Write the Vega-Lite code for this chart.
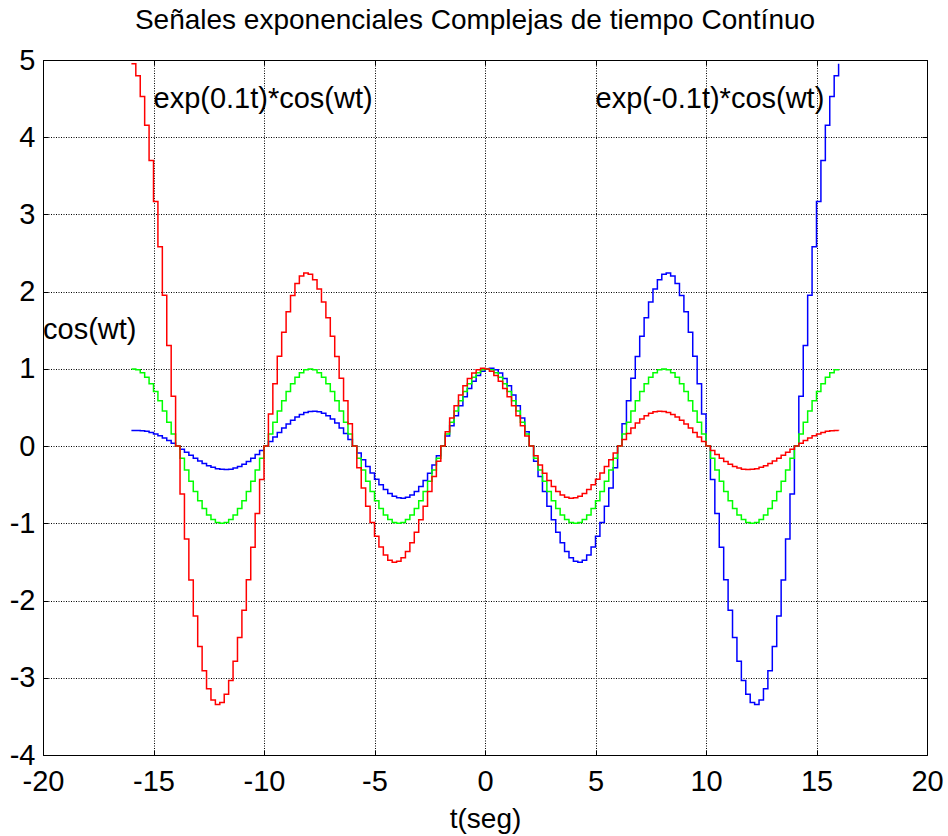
{
  "$schema": "https://vega.github.io/schema/vega-lite/v6.json",
  "width": 884,
  "height": 695,
  "autosize": {"type": "none"},
  "padding": {"left": 43, "top": 60, "right": 21, "bottom": 81},
  "background": "white",
  "title": {
    "text": "Señales exponenciales Complejas de tiempo Contínuo",
    "font": "Liberation Sans",
    "fontSize": 28,
    "fontWeight": "normal",
    "color": "black",
    "anchor": "middle",
    "frame": "group",
    "baseline": "alphabetic",
    "offset": -11,
    "dx": -10
  },
  "config": {
    "view": {"stroke": "black", "strokeWidth": 1},
    "axis": {
      "domain": false,
      "labelFont": "Liberation Sans",
      "labelColor": "black",
      "labelFontSize": 29,
      "labelFlush": false,
      "labelOverlap": false,
      "labelBound": false,
      "tickColor": "black",
      "tickSize": -5,
      "titleFont": "Liberation Sans",
      "titleColor": "black",
      "titleFontWeight": "normal",
      "titleFontSize": 28
    }
  },
  "layer": [
    {
      "data": {
        "values": [
          {"t": -16, "cos": 1, "red": 4.953, "blue": 0.2019},
          {"t": -15.8, "cos": 0.9877, "red": 4.7953, "blue": 0.2035},
          {"t": -15.6, "cos": 0.9511, "red": 4.5261, "blue": 0.1998},
          {"t": -15.4, "cos": 0.891, "red": 4.1562, "blue": 0.191},
          {"t": -15.2, "cos": 0.809, "red": 3.6989, "blue": 0.1769},
          {"t": -15, "cos": 0.7071, "red": 3.169, "blue": 0.1578},
          {"t": -14.8, "cos": 0.5878, "red": 2.5822, "blue": 0.1338},
          {"t": -14.6, "cos": 0.454, "red": 1.9549, "blue": 0.1054},
          {"t": -14.4, "cos": 0.309, "red": 1.3042, "blue": 0.0732},
          {"t": -14.2, "cos": 0.1564, "red": 0.647, "blue": 0.0378},
          {"t": -14, "cos": 0, "red": 0, "blue": 0},
          {"t": -13.8, "cos": -0.1564, "red": -0.6217, "blue": -0.0393},
          {"t": -13.6, "cos": -0.309, "red": -1.2039, "blue": -0.0793},
          {"t": -13.4, "cos": -0.454, "red": -1.7338, "blue": -0.1189},
          {"t": -13.2, "cos": -0.5878, "red": -2.2004, "blue": -0.157},
          {"t": -13, "cos": -0.7071, "red": -2.5946, "blue": -0.1927},
          {"t": -12.8, "cos": -0.809, "red": -2.9097, "blue": -0.2249},
          {"t": -12.6, "cos": -0.891, "red": -3.1411, "blue": -0.2528},
          {"t": -12.4, "cos": -0.9511, "red": -3.2866, "blue": -0.2752},
          {"t": -12.2, "cos": -0.9877, "red": -3.3455, "blue": -0.2916},
          {"t": -12, "cos": -1, "red": -3.3201, "blue": -0.3012},
          {"t": -11.8, "cos": -0.9877, "red": -3.2144, "blue": -0.3035},
          {"t": -11.6, "cos": -0.9511, "red": -3.0339, "blue": -0.2982},
          {"t": -11.4, "cos": -0.891, "red": -2.786, "blue": -0.2849},
          {"t": -11.2, "cos": -0.809, "red": -2.4795, "blue": -0.264},
          {"t": -11, "cos": -0.7071, "red": -2.1243, "blue": -0.2354},
          {"t": -10.8, "cos": -0.5878, "red": -1.7309, "blue": -0.1996},
          {"t": -10.6, "cos": -0.454, "red": -1.3104, "blue": -0.1573},
          {"t": -10.4, "cos": -0.309, "red": -0.8742, "blue": -0.1092},
          {"t": -10.2, "cos": -0.1564, "red": -0.4337, "blue": -0.0564},
          {"t": -10, "cos": 0, "red": 0, "blue": 0},
          {"t": -9.8, "cos": 0.1564, "red": 0.4167, "blue": 0.0587},
          {"t": -9.6, "cos": 0.309, "red": 0.807, "blue": 0.1183},
          {"t": -9.4, "cos": 0.454, "red": 1.1622, "blue": 0.1773},
          {"t": -9.2, "cos": 0.5878, "red": 1.475, "blue": 0.2342},
          {"t": -9, "cos": 0.7071, "red": 1.7392, "blue": 0.2875},
          {"t": -8.8, "cos": 0.809, "red": 1.9504, "blue": 0.3356},
          {"t": -8.6, "cos": 0.891, "red": 2.1056, "blue": 0.3771},
          {"t": -8.4, "cos": 0.9511, "red": 2.2031, "blue": 0.4106},
          {"t": -8.2, "cos": 0.9877, "red": 2.2426, "blue": 0.435},
          {"t": -8, "cos": 1, "red": 2.2255, "blue": 0.4493},
          {"t": -7.8, "cos": 0.9877, "red": 2.1547, "blue": 0.4528},
          {"t": -7.6, "cos": 0.9511, "red": 2.0337, "blue": 0.4448},
          {"t": -7.4, "cos": 0.891, "red": 1.8674, "blue": 0.4251},
          {"t": -7.2, "cos": 0.809, "red": 1.662, "blue": 0.3938},
          {"t": -7, "cos": 0.7071, "red": 1.424, "blue": 0.3511},
          {"t": -6.8, "cos": 0.5878, "red": 1.1603, "blue": 0.2978},
          {"t": -6.6, "cos": 0.454, "red": 0.8784, "blue": 0.2347},
          {"t": -6.4, "cos": 0.309, "red": 0.586, "blue": 0.1629},
          {"t": -6.2, "cos": 0.1564, "red": 0.2907, "blue": 0.0841},
          {"t": -6, "cos": 0, "red": 0, "blue": 0},
          {"t": -5.8, "cos": -0.1564, "red": -0.2793, "blue": -0.0876},
          {"t": -5.6, "cos": -0.309, "red": -0.541, "blue": -0.1765},
          {"t": -5.4, "cos": -0.454, "red": -0.7791, "blue": -0.2646},
          {"t": -5.2, "cos": -0.5878, "red": -0.9887, "blue": -0.3494},
          {"t": -5, "cos": -0.7071, "red": -1.1658, "blue": -0.4289},
          {"t": -4.8, "cos": -0.809, "red": -1.3074, "blue": -0.5006},
          {"t": -4.6, "cos": -0.891, "red": -1.4114, "blue": -0.5625},
          {"t": -4.4, "cos": -0.9511, "red": -1.4768, "blue": -0.6125},
          {"t": -4.2, "cos": -0.9877, "red": -1.5033, "blue": -0.6489},
          {"t": -4, "cos": -1, "red": -1.4918, "blue": -0.6703},
          {"t": -3.8, "cos": -0.9877, "red": -1.4443, "blue": -0.6755},
          {"t": -3.6, "cos": -0.9511, "red": -1.3632, "blue": -0.6636},
          {"t": -3.4, "cos": -0.891, "red": -1.2518, "blue": -0.6342},
          {"t": -3.2, "cos": -0.809, "red": -1.1141, "blue": -0.5874},
          {"t": -3, "cos": -0.7071, "red": -0.9545, "blue": -0.5238},
          {"t": -2.8, "cos": -0.5878, "red": -0.7777, "blue": -0.4443},
          {"t": -2.6, "cos": -0.454, "red": -0.5888, "blue": -0.3501},
          {"t": -2.4, "cos": -0.309, "red": -0.3928, "blue": -0.2431},
          {"t": -2.2, "cos": -0.1564, "red": -0.1949, "blue": -0.1255},
          {"t": -2, "cos": 0, "red": 0, "blue": 0},
          {"t": -1.8, "cos": 0.1564, "red": 0.1873, "blue": 0.1307},
          {"t": -1.6, "cos": 0.309, "red": 0.3626, "blue": 0.2633},
          {"t": -1.4, "cos": 0.454, "red": 0.5222, "blue": 0.3947},
          {"t": -1.2, "cos": 0.5878, "red": 0.6627, "blue": 0.5213},
          {"t": -1, "cos": 0.7071, "red": 0.7815, "blue": 0.6398},
          {"t": -0.8, "cos": 0.809, "red": 0.8764, "blue": 0.7468},
          {"t": -0.6, "cos": 0.891, "red": 0.9461, "blue": 0.8391},
          {"t": -0.4, "cos": 0.9511, "red": 0.9899, "blue": 0.9138},
          {"t": -0.2, "cos": 0.9877, "red": 1.0076, "blue": 0.9681},
          {"t": 0, "cos": 1, "red": 1, "blue": 1},
          {"t": 0.2, "cos": 0.9877, "red": 0.9681, "blue": 1.0076},
          {"t": 0.4, "cos": 0.9511, "red": 0.9138, "blue": 0.9899},
          {"t": 0.6, "cos": 0.891, "red": 0.8391, "blue": 0.9461},
          {"t": 0.8, "cos": 0.809, "red": 0.7468, "blue": 0.8764},
          {"t": 1, "cos": 0.7071, "red": 0.6398, "blue": 0.7815},
          {"t": 1.2, "cos": 0.5878, "red": 0.5213, "blue": 0.6627},
          {"t": 1.4, "cos": 0.454, "red": 0.3947, "blue": 0.5222},
          {"t": 1.6, "cos": 0.309, "red": 0.2633, "blue": 0.3626},
          {"t": 1.8, "cos": 0.1564, "red": 0.1307, "blue": 0.1873},
          {"t": 2, "cos": 0, "red": 0, "blue": 0},
          {"t": 2.2, "cos": -0.1564, "red": -0.1255, "blue": -0.1949},
          {"t": 2.4, "cos": -0.309, "red": -0.2431, "blue": -0.3928},
          {"t": 2.6, "cos": -0.454, "red": -0.3501, "blue": -0.5888},
          {"t": 2.8, "cos": -0.5878, "red": -0.4443, "blue": -0.7777},
          {"t": 3, "cos": -0.7071, "red": -0.5238, "blue": -0.9545},
          {"t": 3.2, "cos": -0.809, "red": -0.5874, "blue": -1.1141},
          {"t": 3.4, "cos": -0.891, "red": -0.6342, "blue": -1.2518},
          {"t": 3.6, "cos": -0.9511, "red": -0.6636, "blue": -1.3632},
          {"t": 3.8, "cos": -0.9877, "red": -0.6755, "blue": -1.4443},
          {"t": 4, "cos": -1, "red": -0.6703, "blue": -1.4918},
          {"t": 4.2, "cos": -0.9877, "red": -0.6489, "blue": -1.5033},
          {"t": 4.4, "cos": -0.9511, "red": -0.6125, "blue": -1.4768},
          {"t": 4.6, "cos": -0.891, "red": -0.5625, "blue": -1.4114},
          {"t": 4.8, "cos": -0.809, "red": -0.5006, "blue": -1.3074},
          {"t": 5, "cos": -0.7071, "red": -0.4289, "blue": -1.1658},
          {"t": 5.2, "cos": -0.5878, "red": -0.3494, "blue": -0.9887},
          {"t": 5.4, "cos": -0.454, "red": -0.2646, "blue": -0.7791},
          {"t": 5.6, "cos": -0.309, "red": -0.1765, "blue": -0.541},
          {"t": 5.8, "cos": -0.1564, "red": -0.0876, "blue": -0.2793},
          {"t": 6, "cos": 0, "red": 0, "blue": 0},
          {"t": 6.2, "cos": 0.1564, "red": 0.0841, "blue": 0.2907},
          {"t": 6.4, "cos": 0.309, "red": 0.1629, "blue": 0.586},
          {"t": 6.6, "cos": 0.454, "red": 0.2347, "blue": 0.8784},
          {"t": 6.8, "cos": 0.5878, "red": 0.2978, "blue": 1.1603},
          {"t": 7, "cos": 0.7071, "red": 0.3511, "blue": 1.424},
          {"t": 7.2, "cos": 0.809, "red": 0.3938, "blue": 1.662},
          {"t": 7.4, "cos": 0.891, "red": 0.4251, "blue": 1.8674},
          {"t": 7.6, "cos": 0.9511, "red": 0.4448, "blue": 2.0337},
          {"t": 7.8, "cos": 0.9877, "red": 0.4528, "blue": 2.1547},
          {"t": 8, "cos": 1, "red": 0.4493, "blue": 2.2255},
          {"t": 8.2, "cos": 0.9877, "red": 0.435, "blue": 2.2426},
          {"t": 8.4, "cos": 0.9511, "red": 0.4106, "blue": 2.2031},
          {"t": 8.6, "cos": 0.891, "red": 0.3771, "blue": 2.1056},
          {"t": 8.8, "cos": 0.809, "red": 0.3356, "blue": 1.9504},
          {"t": 9, "cos": 0.7071, "red": 0.2875, "blue": 1.7392},
          {"t": 9.2, "cos": 0.5878, "red": 0.2342, "blue": 1.475},
          {"t": 9.4, "cos": 0.454, "red": 0.1773, "blue": 1.1622},
          {"t": 9.6, "cos": 0.309, "red": 0.1183, "blue": 0.807},
          {"t": 9.8, "cos": 0.1564, "red": 0.0587, "blue": 0.4167},
          {"t": 10, "cos": 0, "red": 0, "blue": 0},
          {"t": 10.2, "cos": -0.1564, "red": -0.0564, "blue": -0.4337},
          {"t": 10.4, "cos": -0.309, "red": -0.1092, "blue": -0.8742},
          {"t": 10.6, "cos": -0.454, "red": -0.1573, "blue": -1.3104},
          {"t": 10.8, "cos": -0.5878, "red": -0.1996, "blue": -1.7309},
          {"t": 11, "cos": -0.7071, "red": -0.2354, "blue": -2.1243},
          {"t": 11.2, "cos": -0.809, "red": -0.264, "blue": -2.4795},
          {"t": 11.4, "cos": -0.891, "red": -0.2849, "blue": -2.786},
          {"t": 11.6, "cos": -0.9511, "red": -0.2982, "blue": -3.0339},
          {"t": 11.8, "cos": -0.9877, "red": -0.3035, "blue": -3.2144},
          {"t": 12, "cos": -1, "red": -0.3012, "blue": -3.3201},
          {"t": 12.2, "cos": -0.9877, "red": -0.2916, "blue": -3.3455},
          {"t": 12.4, "cos": -0.9511, "red": -0.2752, "blue": -3.2866},
          {"t": 12.6, "cos": -0.891, "red": -0.2528, "blue": -3.1411},
          {"t": 12.8, "cos": -0.809, "red": -0.2249, "blue": -2.9097},
          {"t": 13, "cos": -0.7071, "red": -0.1927, "blue": -2.5946},
          {"t": 13.2, "cos": -0.5878, "red": -0.157, "blue": -2.2004},
          {"t": 13.4, "cos": -0.454, "red": -0.1189, "blue": -1.7338},
          {"t": 13.6, "cos": -0.309, "red": -0.0793, "blue": -1.2039},
          {"t": 13.8, "cos": -0.1564, "red": -0.0393, "blue": -0.6217},
          {"t": 14, "cos": 0, "red": 0, "blue": 0},
          {"t": 14.2, "cos": 0.1564, "red": 0.0378, "blue": 0.647},
          {"t": 14.4, "cos": 0.309, "red": 0.0732, "blue": 1.3042},
          {"t": 14.6, "cos": 0.454, "red": 0.1054, "blue": 1.9549},
          {"t": 14.8, "cos": 0.5878, "red": 0.1338, "blue": 2.5822},
          {"t": 15, "cos": 0.7071, "red": 0.1578, "blue": 3.169},
          {"t": 15.2, "cos": 0.809, "red": 0.1769, "blue": 3.6989},
          {"t": 15.4, "cos": 0.891, "red": 0.191, "blue": 4.1562},
          {"t": 15.6, "cos": 0.9511, "red": 0.1998, "blue": 4.5261},
          {"t": 15.8, "cos": 0.9877, "red": 0.2035, "blue": 4.7953},
          {"t": 16, "cos": 1, "red": 0.2019, "blue": 4.953}
        ]
      },
      "transform": [{"fold": ["blue", "cos", "red"], "as": ["serie", "valor"]}],
      "mark": {"type": "line", "interpolate": "step-after", "strokeWidth": 1.5, "clip": true},
      "encoding": {
        "x": {
          "field": "t",
          "type": "quantitative",
          "scale": {"domain": [-20, 20], "nice": false, "zero": false},
          "axis": {
            "orient": "bottom",
            "values": [-20, -15, -10, -5, 0, 5, 10, 15, 20],
            "labelExpr": "'' + datum.value",
            "labelPadding": 17,
            "grid": true,
            "gridColor": "black",
            "gridOpacity": 1,
            "gridDash": [1, 1.5],
            "title": "t(seg)",
            "titleBaseline": "alphabetic",
            "titleY": 72
          }
        },
        "y": {
          "field": "valor",
          "type": "quantitative",
          "scale": {"domain": [-4, 5], "nice": false, "zero": false},
          "axis": {
            "orient": "left",
            "values": [-4, -3, -2, -1, 0, 1, 2, 3, 4, 5],
            "labelExpr": "'' + datum.value",
            "labelPadding": 13,
            "grid": true,
            "gridColor": "black",
            "gridOpacity": 1,
            "gridDash": [1, 1.5],
            "title": null
          }
        },
        "color": {
          "field": "serie",
          "type": "nominal",
          "scale": {"domain": ["blue", "cos", "red"], "range": ["#0000ff", "#00ff00", "#ff0000"]},
          "legend": null
        }
      }
    },
    {
      "data": {
        "values": [
          {"t": -15, "y": 4.5, "etiqueta": "exp(0.1t)*cos(wt)"},
          {"t": 5, "y": 4.5, "etiqueta": "exp(-0.1t)*cos(wt)"},
          {"t": -20, "y": 1.5, "etiqueta": "cos(wt)"}
        ]
      },
      "mark": {"type": "text", "align": "left", "baseline": "middle", "font": "Liberation Sans", "fontSize": 29, "color": "black"},
      "encoding": {
        "x": {
          "field": "t",
          "type": "quantitative",
          "scale": {"domain": [-20, 20], "nice": false, "zero": false},
          "axis": {"orient": "top", "values": [-20, -15, -10, -5, 0, 5, 10, 15, 20], "labels": false, "grid": false, "title": null}
        },
        "y": {
          "field": "y",
          "type": "quantitative",
          "scale": {"domain": [-4, 5], "nice": false, "zero": false},
          "axis": {"orient": "right", "values": [-4, -3, -2, -1, 0, 1, 2, 3, 4, 5], "labels": false, "grid": false, "title": null}
        },
        "text": {"field": "etiqueta"}
      }
    }
  ],
  "resolve": {"axis": {"x": "independent", "y": "independent"}}
}
